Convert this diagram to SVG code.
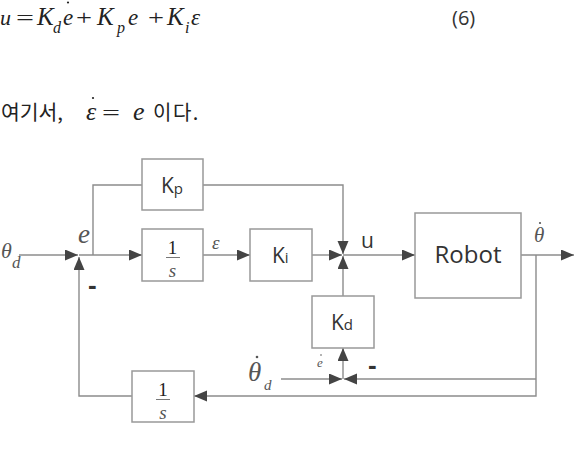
<svg xmlns="http://www.w3.org/2000/svg" width="574" height="449" viewBox="0 0 574 449">
<style>
.bg{fill:#fff}
.box{fill:#fff;stroke:#999;stroke-width:1.5}
.ln{fill:none;stroke:#8c8c8c;stroke-width:1.4}
.ar{marker-end:url(#ah)}
.m{font-family:"Liberation Serif",serif;font-style:italic;fill:#222}
.mu{font-family:"Liberation Serif",serif;fill:#222}
.ml{font-family:"Liberation Serif",serif;font-style:italic;fill:#555}
.sn{font-family:"Open Sans","Noto Sans",sans-serif;fill:#333}
.kr{font-family:"Noto Sans CJK KR","Noto Sans",sans-serif;fill:#222}
.fb{stroke:#777;stroke-width:1}
.neg{font-family:"Liberation Sans",sans-serif;font-weight:bold;fill:#333}
</style>
<defs>
<marker id="ah" markerUnits="userSpaceOnUse" markerWidth="14" markerHeight="12" refX="13" refY="5.5" orient="auto">
<path d="M0,0 L13,5.5 L0,11 z" fill="#444"/>
</marker>
</defs>
<rect class="bg" width="574" height="449"/>
<g id="equation">
<text class="m" font-size="22" x="0" y="25">u</text>
<text class="mu" font-size="22" x="16" y="25" textLength="18" lengthAdjust="spacingAndGlyphs">=</text>
<text class="m" font-size="25" x="37" y="25">K</text>
<text class="m" font-size="16" x="53" y="33">d</text>
<text class="m" font-size="23" x="63" y="25">e</text>
<circle cx="68" cy="2.5" r="1.1" fill="#222"/>
<text class="mu" font-size="22" x="76" y="25" textLength="16" lengthAdjust="spacingAndGlyphs">+</text>
<text class="m" font-size="25" x="97" y="25">K</text>
<text class="m" font-size="16" x="117" y="33">p</text>
<text class="m" font-size="23" x="128" y="25">e</text>
<text class="mu" font-size="22" x="148" y="25" textLength="16" lengthAdjust="spacingAndGlyphs">+</text>
<text class="m" font-size="25" x="167" y="25">K</text>
<text class="m" font-size="16" x="185" y="33">i</text>
<text class="m" font-size="23" x="191" y="25">ε</text>
<text class="sn" font-size="20" x="452" y="25">(6)</text>
</g>
<g id="definition">
<text class="kr" font-size="20" x="1" y="120" textLength="62" lengthAdjust="spacingAndGlyphs">여기서,</text>
<text class="m" font-size="26" x="86" y="120">ε</text>
<circle cx="93" cy="98" r="1.1" fill="#222"/>
<text class="mu" font-size="22" x="102" y="120" textLength="18" lengthAdjust="spacingAndGlyphs">=</text>
<text class="m" font-size="26" x="133" y="120">e</text>
<text class="kr" font-size="20" x="153" y="120" letter-spacing="1.5">이다.</text>
</g>
<g id="connectors">
<path class="ln ar" d="M19,255 H78"/>
<path class="ln ar" d="M79,255 H142"/>
<path class="ln" d="M93,255 V185 H142"/>
<path class="ln ar" d="M203,185 H343 V254"/>
<path class="ln ar" d="M203,255 H250"/>
<path class="ln ar" d="M312,255 H342"/>
<path class="ln ar" d="M343,296 V256"/>
<path class="ln ar" d="M343,255 H415"/>
<path class="ln ar" d="M521,255 H574"/>
<path class="ln ar" d="M536,255 V396 H194"/>
<path class="ln ar" d="M536,379 H344"/>
<path class="ln ar" d="M281,379 H342"/>
<path class="ln ar" d="M343,379 V348"/>
<path class="ln ar" d="M132,396 H79 V257"/>
</g>
<g id="kp">
<rect class="box" x="142" y="159" width="61" height="51"/>
<text class="sn" font-size="21" x="161" y="193">K<tspan font-size="15" dy="1">p</tspan></text>
</g>
<g id="integrator">
<rect class="box" x="142" y="229" width="61" height="52"/>
<text class="mu" font-size="19" x="172.5" y="254" text-anchor="middle" fill="#555">1</text>
<line class="fb" x1="166" y1="257.5" x2="180" y2="257.5"/>
<text class="ml" font-size="19" x="172.5" y="277" text-anchor="middle">s</text>
</g>
<g id="ki">
<rect class="box" x="250" y="229" width="62" height="52"/>
<text class="sn" font-size="21" x="272" y="263">K<tspan font-size="15">i</tspan></text>
</g>
<g id="kd">
<rect class="box" x="312" y="296" width="62" height="52"/>
<text class="sn" font-size="21" x="331" y="330">K<tspan font-size="15">d</tspan></text>
</g>
<g id="robot">
<rect class="box" x="415" y="213" width="106" height="85"/>
<text class="sn" font-size="24" x="468" y="263" text-anchor="middle">Robot</text>
</g>
<g id="integrator2">
<rect class="box" x="132" y="371" width="62" height="51"/>
<text class="mu" font-size="19" x="163" y="396" text-anchor="middle" fill="#555">1</text>
<line class="fb" x1="156" y1="399.5" x2="170" y2="399.5"/>
<text class="ml" font-size="19" x="163" y="419" text-anchor="middle">s</text>
</g>
<g id="labels">
<text class="ml" font-size="22" x="1" y="258" fill="#333">θ</text>
<text class="ml" font-size="17" x="12" y="268">d</text>
<text class="ml" font-size="27" x="78" y="243">e</text>
<text class="ml" font-size="19" x="212" y="249">ε</text>
<text class="sn" font-size="21" x="361" y="248">u</text>
<text class="ml" font-size="21" x="534" y="242">θ</text>
<circle cx="540" cy="223" r="1.1" fill="#555"/>
<text class="ml" font-size="27" x="248" y="381">θ</text>
<circle cx="257" cy="357" r="1.3" fill="#555"/>
<text class="ml" font-size="15" x="264" y="390">d</text>
<text class="ml" font-size="13" x="317" y="367">e</text>
<circle cx="321" cy="355" r="0.8" fill="#555"/>
<text class="neg" font-size="26" x="88" y="294">-</text>
<text class="neg" font-size="26" x="368" y="374">-</text>
</g>
</svg>
